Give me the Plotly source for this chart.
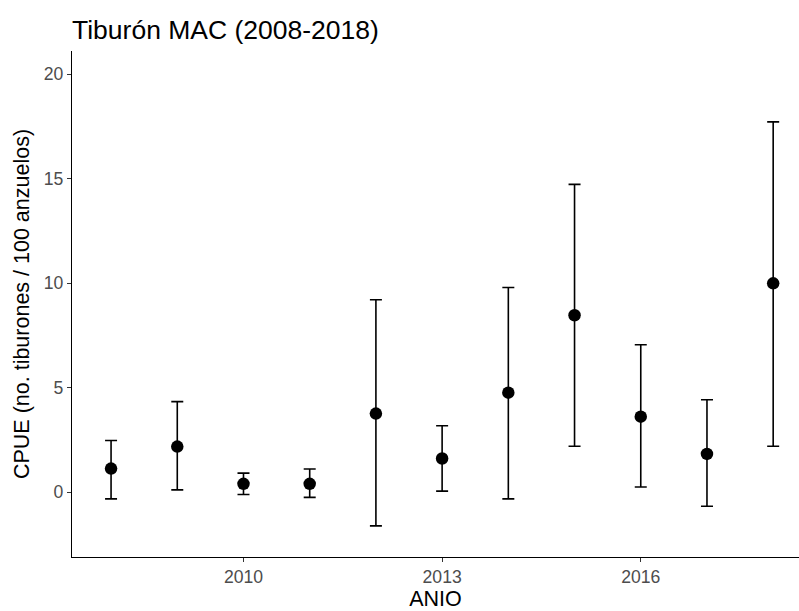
import plotly.graph_objects as go

years = [2008, 2009, 2010, 2011, 2012, 2013, 2014, 2015, 2016, 2017, 2018]
cpue = [1.13, 2.18, 0.40, 0.40, 3.76, 1.61, 4.76, 8.46, 3.61, 1.83, 9.99]
upper = [2.47, 4.33, 0.91, 1.11, 9.20, 3.18, 9.79, 14.72, 7.05, 4.42, 17.71]
lower = [-0.32, 0.11, -0.11, -0.25, -1.61, 0.05, -0.32, 2.20, 0.25, -0.67, 2.20]

x_ticks = [2010, 2013, 2016]
y_ticks = [0, 5, 10, 15, 20]

err_plus = [u - v for u, v in zip(upper, cpue)]
err_minus = [v - l for v, l in zip(cpue, lower)]

fig = go.Figure()
fig.add_trace(go.Scatter(
    x=years, y=cpue, mode="markers",
    marker=dict(color="black", size=12.5),
    error_y=dict(type="data", symmetric=False, array=err_plus, arrayminus=err_minus,
                 color="black", thickness=1.6, width=6),
    showlegend=False,
))

font = "Liberation Sans, Arial, sans-serif"
fig.update_layout(
    width=799, height=611,
    paper_bgcolor="white", plot_bgcolor="white",
    margin=dict(l=72, r=0, t=51, b=54),
    title=dict(text="Tiburón MAC (2008-2018)", x=0, xref="paper", xanchor="left",
               y=0.951, yref="container", yanchor="middle",
               font=dict(family=font, size=26.5, color="black")),
    font=dict(family=font),
    xaxis=dict(range=[2007.41, 2018.39], tickvals=x_ticks, ticktext=[str(t) for t in x_ticks],
               showgrid=False, zeroline=False, showline=True, linecolor="black", linewidth=1.3,
               ticks="outside", ticklen=4, tickcolor="#333333", tickwidth=1.1,
               tickfont=dict(family=font, size=17.6, color="#4D4D4D"), automargin=False,
               title=dict(text="ANIO", font=dict(family=font, size=21.5, color="black"), standoff=2)),
    yaxis=dict(range=[-3.1, 21.1], tickvals=y_ticks, ticktext=[str(t) for t in y_ticks],
               showgrid=False, zeroline=False, showline=True, linecolor="black", linewidth=1.3,
               ticks="outside", ticklen=4, tickcolor="#333333", tickwidth=1.1,
               tickfont=dict(family=font, size=17.6, color="#4D4D4D"), automargin=False,
               title=dict(text="CPUE (no. tiburones / 100 anzuelos)",
                          font=dict(family=font, size=21.5, color="black"), standoff=8)),
)

fig.write_html("out.html")
